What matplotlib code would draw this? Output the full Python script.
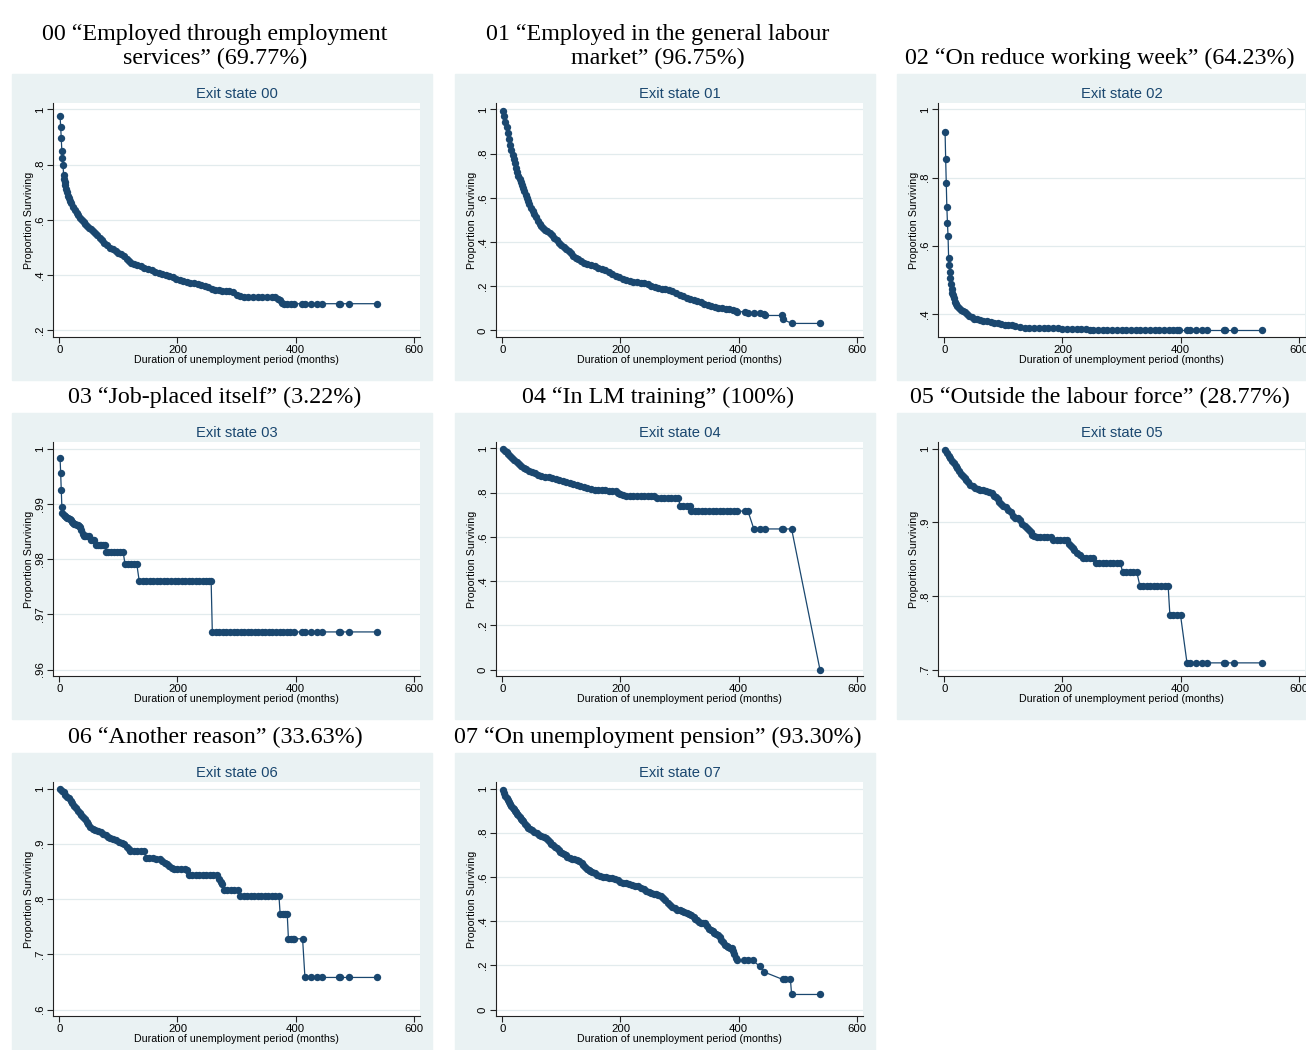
import matplotlib
matplotlib.use("Agg")
import matplotlib.pyplot as plt
from matplotlib.patches import Rectangle

plt.rcParams["font.family"] = ["Liberation Sans", "DejaVu Sans"]

NAVY = "#1a476f"
BG = "#eaf2f3"
GRID = "#e2ebed"

# ---- panel texts -------------------------------------------------------
titles = [
    "00 \u201cEmployed through employment\nservices\u201d (69.77%)",
    "01 \u201cEmployed in the general labour\nmarket\u201d (96.75%)",
    "02 \u201cOn reduce working week\u201d (64.23%)",
    "03 \u201cJob-placed itself\u201d (3.22%)",
    "04 \u201cIn LM training\u201d (100%)",
    "05 \u201cOutside the labour force\u201d (28.77%)",
    "06 \u201cAnother reason\u201d (33.63%)",
    "07 \u201cOn unemployment pension\u201d (93.30%)",
]
headers = ["Exit state 00", "Exit state 01", "Exit state 02", "Exit state 03",
           "Exit state 04", "Exit state 05", "Exit state 06", "Exit state 07"]
xticks = [0, 200, 400, 600]
yticks = [
    [0.2, 0.4, 0.6, 0.8, 1],
    [0, 0.2, 0.4, 0.6, 0.8, 1],
    [0.4, 0.6, 0.8, 1],
    [0.96, 0.97, 0.98, 0.99, 1],
    [0, 0.2, 0.4, 0.6, 0.8, 1],
    [0.7, 0.8, 0.9, 1],
    [0.6, 0.7, 0.8, 0.9, 1],
    [0, 0.2, 0.4, 0.6, 0.8, 1],
]

# ---- survival curves (months, proportion surviving) ----
t00 = [1, 2, 3, 4, 5, 6, 7, 8, 9, 10, 11, 12,
       14, 16, 18, 20,
       23, 26, 29, 32, 35, 38, 41, 44, 47, 50, 53, 56,
       60, 64, 68, 72, 76, 80,
       85, 90, 95, 100, 105, 110,
       114, 118, 122, 126,
       132, 138, 144, 150, 156, 162, 168, 174, 180, 186, 192, 198, 204, 210, 216, 222,
       228, 234, 240, 246, 252, 258, 264, 270, 276, 282, 288, 294, 300, 306, 312,
       320, 328, 336, 344, 352, 360,
       366, 370, 374, 377, 380, 386, 392, 398,
       411, 416, 426, 436, 445, 473, 476, 490, 538]
s00 = [.976, .936, .896, .848, .825, .800, .762, .750, .738, .725, .713, .700,
       .688, .678, .668, .660,
       .648, .638, .627, .617, .608, .600, .592, .585, .578, .571, .566, .560,
       .552, .544, .535, .526, .516, .508,
       .500, .494, .488, .481, .476, .468,
       .460, .453, .446, .440,
       .436, .433, .428, .422, .418, .413, .408, .404, .400, .396, .392, .388, .384, .380, .376, .373,
       .371, .367, .364, .360, .356, .352, .347, .345, .344, .343, .342, .338, .330, .324, .320,
       .320, .320, .320, .320, .320, .320,
       .320, .313, .311, .300, .297, .297, .297, .297,
       .297, .297, .297, .297, .297, .297, .297, .297, .297]

t01 = [1, 3, 5, 7, 9, 11, 13, 15, 17, 19, 21, 23, 25, 27, 29, 31, 33, 35, 37, 39, 41, 43, 45,
       48, 51, 54, 57, 60, 63, 66, 69, 72,
       76, 80, 84, 88, 92, 96, 100, 104, 108, 112, 116, 120, 124, 128,
       133, 138,
       144, 150, 156, 162, 168, 174, 180, 186, 192, 198, 204, 210, 216, 222, 228,
       234, 240, 246, 252, 258, 264, 270, 276, 282, 288, 294, 300, 306, 312, 318,
       324, 330, 336, 342, 348, 354, 360, 366, 372, 378, 384, 390, 396,
       398, 411, 416, 426, 436, 444, 445, 473, 476, 490, 538]
s01 = [.995, .970, .945, .919, .894, .866, .839, .816, .796, .776, .756, .736, .718, .699, .684, .670,
       .657, .643, .629, .615, .601, .586, .571,
       .553, .540, .527, .512, .497, .483, .472, .463, .456,
       .448, .439, .430, .419, .408, .397, .388, .378, .369, .360, .349, .339, .330, .322,
       .315, .307,
       .300, .295, .290, .285, .279, .272, .264, .255, .246, .240, .233, .227, .224, .221, .218,
       .216, .214, .210, .203, .196, .191, .189, .187, .183, .177, .170, .162, .155, .147, .143,
       .139, .135, .128, .121, .115, .112, .107, .104, .101, .099, .096, .092, .087,
       .085, .085, .077, .077, .077, .074, .068, .068, .050, .032, .032]

t02 = [1, 2, 3, 4, 5, 6, 7, 8, 9, 10, 11, 12, 13, 14,
       16, 18, 20, 22, 25, 28, 31, 34, 38, 42, 46, 50,
       55, 60, 66, 72, 78, 84, 90, 96, 102, 108, 114, 120,
       128, 136, 144, 152, 160, 168, 176, 184, 192, 200, 208, 216, 224, 232, 240,
       246, 252, 260, 268, 276, 284, 292, 300, 308, 316, 324, 332, 340, 348, 356,
       364, 372, 380, 388, 394, 398,
       411, 416, 426, 436, 445, 473, 476, 490, 538]
s02 = [.933, .854, .784, .713, .668, .629, .565, .543, .524, .504, .489, .473, .462, .455,
       .445, .436, .428, .422, .416, .412, .408, .404, .400, .395, .390, .386,
       .384, .382, .380, .378, .376, .374, .372, .370, .368, .367, .366, .363,
       .360, .359, .359, .359, .358, .358, .357, .357, .357, .356, .356, .356, .356, .356, .356,
       .352, .351, .351, .351, .351, .351, .351, .351, .351, .351, .351, .351, .351, .351, .351,
       .351, .351, .351, .351, .351, .351,
       .351, .351, .351, .351, .351, .351, .351, .351, .351]

t03 = [1, 2, 3, 4, 5, 7, 9, 11, 13, 15, 17, 19, 21, 23, 25, 27, 29, 31, 33, 35, 37, 39, 41,
       44, 47, 50, 53, 56, 59, 62, 65, 68, 71, 74, 77,
       79, 83, 88, 93, 98, 103, 108,
       111, 116, 121, 126, 131,
       135, 141, 147, 153, 159, 165, 171, 177, 183, 189, 195, 201, 207, 213, 219, 225,
       231, 237, 243, 249, 254, 257,
       259, 265, 271, 277, 283, 289, 295, 301, 307, 313, 319, 325, 331, 337, 343, 349,
       355, 361, 367, 373, 379, 385, 391, 398,
       411, 416, 426, 436, 445, 473, 476, 490, 538]
s03 = [.9982, .9955, .9925, .9895, .9884, .9880, .9878, .9876, .9875, .9874, .9873, .9870,
       .9867, .9866, .9864, .9863, .9862, .9861, .9860, .9858, .9852, .9846, .9842,
       .9842, .9842, .9842, .9835, .9835, .9835, .9825, .9825, .9825, .9825, .9825, .9825,
       .9812, .9812, .9812, .9812, .9812, .9812, .9812,
       .9791, .9791, .9791, .9791, .9791,
       .9761, .9761, .9761, .9761, .9761, .9761, .9761, .9761, .9761, .9761, .9761, .9761,
       .9761, .9761, .9761, .9761,
       .9761, .9761, .9761, .9761, .9761, .9761,
       .9668, .9668, .9668, .9668, .9668, .9668, .9668, .9668, .9668, .9668, .9668, .9668,
       .9668, .9668, .9668, .9668,
       .9668, .9668, .9668, .9668, .9668, .9668, .9668, .9668,
       .9668, .9668, .9668, .9668, .9668, .9668, .9668, .9668, .9668]

t04 = [1, 4, 7, 10, 13, 16, 20, 24, 28, 32, 36, 40, 45, 50, 55, 60,
       66, 72, 78, 84, 90, 96, 102, 108, 114, 120, 126, 132, 138, 144, 150, 156,
       162, 168, 174, 180, 186, 192, 196, 200, 205, 210,
       216, 222, 228, 234, 240, 246, 252, 256,
       262, 268, 274, 280, 286, 292, 298,
       301, 306, 312, 318,
       320, 326, 332, 338, 344, 350, 356, 362, 368, 374, 380, 386, 392, 398,
       411, 416, 426, 436, 445, 473, 476, 490, 538]
s04 = [.997, .989, .982, .975, .966, .958, .948, .939, .930, .921, .914, .907, .900, .894, .888, .882,
       .877, .873, .870, .866, .862, .859, .855, .849, .844, .839, .835, .830, .825, .821, .817, .814,
       .812, .811, .810, .809, .808, .806, .800, .795, .789, .786,
       .785, .785, .785, .785, .785, .785, .785, .785,
       .777, .777, .777, .777, .777, .777, .777,
       .742, .742, .742, .742,
       .717, .717, .717, .717, .717, .717, .717, .717, .717, .717, .717, .717, .717, .717,
       .717, .717, .636, .636, .636, .636, .636, .636, 0.0]

t05 = [1, 4, 7, 10, 13, 16, 19, 22, 25, 28, 31, 34, 37, 40,
       44, 48, 52, 56, 61, 66, 71, 76, 80, 84, 87, 90, 93, 96,
       100, 104, 108, 112, 116, 120, 124, 128, 132, 136, 140,
       143, 146, 149, 152, 156, 162, 168, 174, 180,
       184, 190, 196, 202, 208,
       211, 214, 217, 220, 225, 230, 234, 240, 246, 252,
       256, 262, 268, 274, 280, 286, 292, 298,
       302, 308, 314, 320, 326,
       331, 337, 343, 349, 355, 361, 367, 373, 379,
       382, 388, 394, 400,
       411, 416, 426, 436, 445, 473, 476, 490, 538]
s05 = [.998, .994, .990, .987, .983, .980, .976, .973, .969, .966, .963, .960, .957, .954,
       .951, .949, .947, .945, .944, .943, .942, .941, .939, .936, .934, .932, .928, .925,
       .922, .920, .917, .914, .909, .906, .905, .903, .898, .895, .892,
       .889, .886, .883, .881, .880, .880, .880, .880, .880,
       .876, .876, .876, .876, .876,
       .870, .868, .865, .862, .858, .855, .852, .852, .852, .852,
       .845, .845, .845, .845, .845, .845, .845, .845,
       .832, .832, .832, .832, .832,
       .814, .814, .814, .814, .814, .814, .814, .814, .814,
       .774, .774, .774, .774,
       .709, .709, .709, .709, .709, .709, .709, .709, .709]

t06 = [1, 4, 7, 10, 13, 16, 19, 22, 25, 28, 31, 34, 37, 40, 43, 46, 49, 52,
       56, 60, 65, 70, 74, 78, 82, 86, 91, 96, 101, 106, 110, 114, 117, 120,
       126, 132, 138, 144,
       146, 152, 158, 164, 170, 174, 178, 182, 186, 190, 194, 200, 206, 212, 216,
       219, 225, 231, 237, 243, 249, 255, 261, 267,
       271, 273, 275, 278, 284, 290, 296, 302,
       306, 312, 318, 324, 330, 336, 342, 348, 354, 360, 366, 372,
       374, 378, 382, 386,
       388, 392, 396, 398, 412,
       416, 426, 436, 445, 473, 476, 490, 538]
s06 = [.999, .996, .993, .989, .985, .982, .977, .973, .968, .964, .960, .956, .952, .949, .944, .939, .935, .931,
       .927, .925, .923, .921, .918, .915, .912, .910, .908, .906, .904, .901, .899, .895, .891, .887,
       .887, .887, .887, .887,
       .875, .875, .874, .873, .873, .869, .866, .863, .860, .857, .855, .855, .855, .855, .853,
       .843, .843, .843, .843, .843, .843, .843, .843, .843,
       .836, .831, .827, .817, .817, .817, .817, .817,
       .805, .805, .805, .805, .805, .805, .805, .805, .805, .805, .805, .805,
       .772, .772, .772, .772,
       .728, .728, .728, .728, .728,
       .658, .658, .658, .658, .658, .658, .658, .658]

t07 = [1, 3, 5, 7, 9, 11, 13, 15, 17, 19, 21, 23, 25, 27, 29, 31, 33, 35,
       38, 41, 44, 47, 50,
       54, 58, 62, 66, 70, 74,
       77, 80, 83, 86, 89, 92, 95, 98, 101, 104, 107, 110,
       114, 118, 122, 126, 130, 134,
       137, 140, 143, 146, 149, 152,
       156, 160,
       165, 170, 175, 180, 185, 190, 195, 200, 205, 210, 215, 220, 225, 230, 235, 240,
       244, 248, 252, 256, 260, 264, 268, 272, 276, 280, 284, 288, 292, 296, 300, 304,
       308, 312, 316, 320, 324,
       327, 330, 333, 336,
       340, 344,
       347, 350, 353, 356, 359, 362, 365, 368, 371, 374, 377, 380, 383, 386, 389,
       391, 393, 395, 397,
       410, 416, 424, 436, 444, 475, 478, 488, 490, 538]
s07 = [.993, .981, .968, .958, .950, .940, .930, .921, .913, .906, .899, .892, .886, .879, .872, .864, .857, .851,
       .841, .832, .823, .817, .811,
       .804, .798, .791, .786, .780, .775,
       .767, .757, .750, .743, .736, .729, .721, .714, .708, .702, .697, .692,
       .686, .682, .679, .675, .670, .662,
       .656, .647, .637, .631, .626, .621,
       .616, .610,
       .605, .601, .598, .596, .594, .590, .584, .579, .574, .571, .568, .564, .560, .557, .551, .544,
       .537, .532, .528, .524, .521, .517, .512, .504, .494, .483, .472, .465, .458, .452, .448, .444,
       .440, .437, .433, .428, .418,
       .411, .404, .398, .393,
       .393, .390,
       .377, .364, .358, .353, .347, .341, .336, .327, .316, .304, .293, .287, .282, .280, .277,
       .265, .250, .235, .222,
       .222, .222, .222, .196, .169, .136, .136, .136, .068, .068]

times = [t00, t01, t02, t03, t04, t05, t06, t07]
surv = [s00, s01, s02, s03, s04, s05, s06, s07]


def stata_label(v):
    s = f"{v:g}"
    return s[1:] if s.startswith("0.") else s


W, H = 1306, 1050
fig = plt.figure(figsize=(W / 100, H / 100), dpi=100)
fig.patch.set_facecolor("white")

col_x = [12, 455, 897]
row_y = [74, 413, 753]
PW, PH = 420, 306


def fx(px):
    return px / W


def fy(py):
    return 1 - py / H


for i in range(8):
    r, c = divmod(i, 3)
    x0, y0 = col_x[c], row_y[r]

    # graph region background, kept under the axes
    fig.patches.append(Rectangle((fx(x0), fy(y0 + PH)), PW / W, PH / H,
                                 transform=fig.transFigure, color=BG, zorder=-10))
    fig.text(fx(x0 + 203), fy(y0 - 5), titles[i], ha="center", va="bottom",
             fontsize=17.3, family=["Liberation Serif", "DejaVu Serif"], linespacing=1.2)
    fig.text(fx(x0 + 41 + 183.5), fy(y0 + 20), headers[i], ha="center", va="center",
             fontsize=10.6, color=NAVY)

    ax = fig.add_axes([fx(x0 + 41), fy(y0 + 263), 367 / W, 234 / H])
    ax.set_facecolor("white")
    ax.plot(times[i], surv[i], "-", color=NAVY, lw=0.9, marker="o", ms=5.3, mew=0,
            mfc=NAVY, zorder=3)

    yt = yticks[i]
    lo = min(yt[0], min(surv[i]))
    hi = yt[-1]
    pad = (hi - lo) * 6.5 / 221
    ax.set_ylim(lo - pad, hi + pad)
    ax.set_xlim(-11, 611)
    ax.set_xticks(xticks)
    ax.set_xticklabels([str(v) for v in xticks])
    ax.set_yticks(yt)
    ax.set_yticklabels([stata_label(v) for v in yt], rotation=90, va="center")

    ax.yaxis.grid(True, color=GRID, lw=0.9)
    ax.set_axisbelow(True)
    for side in ["top", "right"]:
        ax.spines[side].set_visible(False)
    for side in ["left", "bottom"]:
        ax.spines[side].set_color("#222222")
        ax.spines[side].set_linewidth(0.8)
    ax.tick_params(direction="out", length=4, width=0.8, labelsize=8.2, pad=2,
                   color="#222222")
    ax.set_xlabel("Duration of unemployment period (months)", fontsize=7.7, labelpad=0)
    ax.set_ylabel("Proportion Surviving", fontsize=7.7, labelpad=0.5)

fig.savefig("out.png", dpi=100, facecolor="white")
